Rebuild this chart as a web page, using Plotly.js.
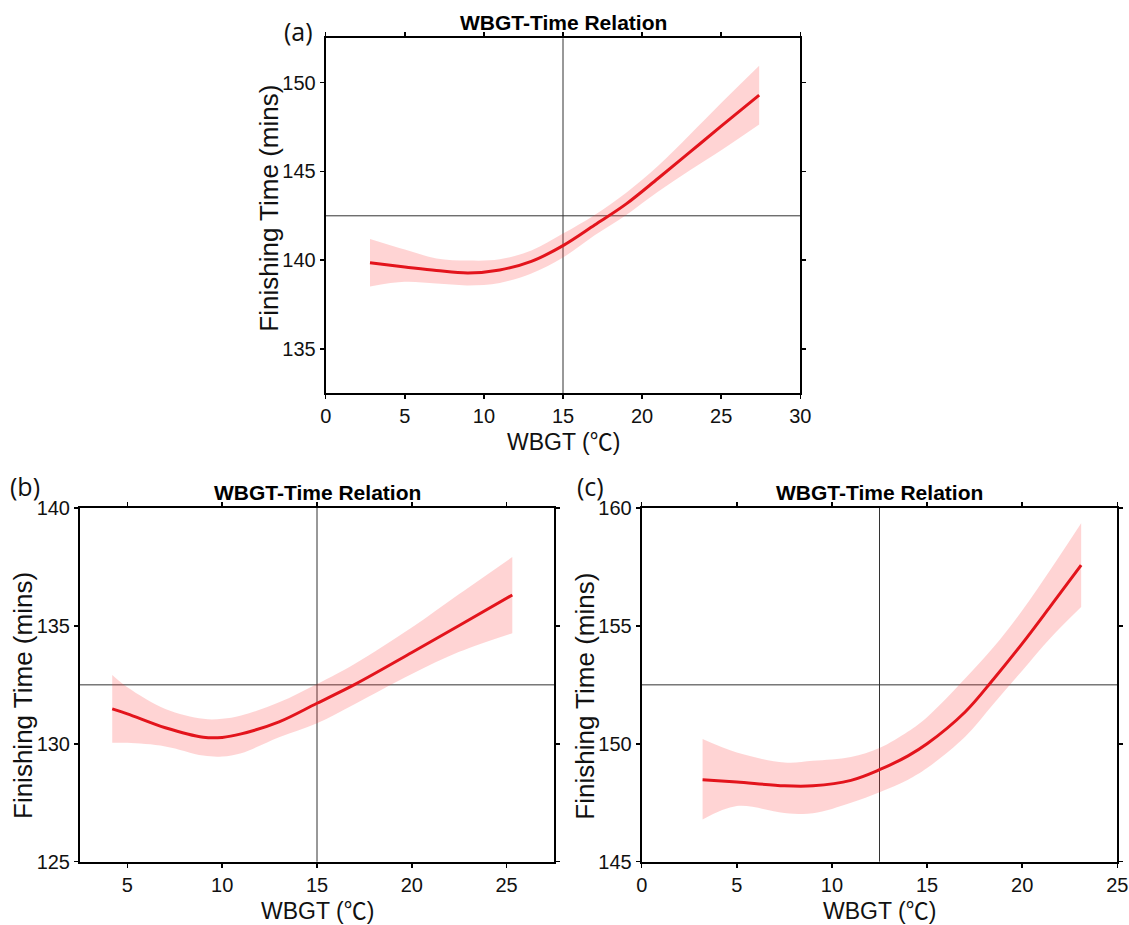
<!DOCTYPE html>
<html>
<head>
<meta charset="utf-8">
<script src="https://cdn.plot.ly/plotly-3.0.1.min.js"></script>
<style>html,body{margin:0;padding:0;background:#fff;}#chart{width:1129px;height:925px;}</style>
</head>
<body>
<div id="chart"></div>
<script>
// ---- Data ----
const panelLabels = ["(a)", "(b)", "(c)"];
const chartTitle = "WBGT-Time Relation";
const xTitle = "WBGT (<span style=\"font-family:'Noto Sans CJK SC'\">℃</span>)";
const yTitle = "Finishing Time (mins)";

// Panel (a)
const aX     = [2.8, 5, 7, 9, 11, 13, 15, 17, 19, 21, 23, 25, 27.4];
const aFit   = [139.85, 139.62, 139.42, 139.28, 139.45, 139.93, 140.82, 141.98, 143.17, 144.6, 146.07, 147.55, 149.3];
const aUpper = [141.2, 140.6, 140.1, 139.98, 140.05, 140.55, 141.5, 142.55, 143.8, 145.3, 147.05, 148.85, 150.95];
const aLower = [138.52, 138.78, 138.68, 138.58, 138.72, 139.25, 140.15, 141.4, 142.55, 143.85, 145.05, 146.2, 147.65];
const aXRange = [0, 30], aYRange = [132.5, 152.5];
const aXTicks = [0, 5, 10, 15, 20, 25, 30], aYTicks = [135, 140, 145, 150];

// Panel (b)
const bX     = [4.2, 5, 7, 9, 10, 11, 13, 15, 17, 20, 22.5, 25.3];
const bFit   = [131.48, 131.27, 130.68, 130.28, 130.27, 130.42, 130.93, 131.72, 132.52, 133.87, 135.02, 136.31];
const bUpper = [132.92, 132.4, 131.48, 131.06, 131.06, 131.2, 131.76, 132.54, 133.4, 134.93, 136.35, 137.92];
const bLower = [130.04, 130.04, 129.89, 129.5, 129.46, 129.6, 130.28, 130.87, 131.69, 132.96, 133.9, 134.69];
const bXRange = [2.5, 27.5], bYRange = [125, 140];
const bXTicks = [5, 10, 15, 20, 25], bYTicks = [125, 130, 135, 140];

// Panel (c)
const cX     = [3.2, 5, 7.5, 9, 11, 12.5, 14, 15, 17, 18.5, 20, 21.5, 23.1];
const cFit   = [148.48, 148.38, 148.22, 148.22, 148.45, 148.9, 149.49, 150.0, 151.35, 152.75, 154.25, 155.85, 157.58];
const cUpper = [150.2, 149.63, 149.21, 149.28, 149.44, 149.82, 150.52, 151.13, 152.77, 154.1, 155.65, 157.4, 159.35];
const cLower = [146.79, 147.36, 147.07, 147.05, 147.5, 147.95, 148.48, 148.97, 150.3, 151.7, 153.1, 154.5, 155.8];
const cXRange = [0, 25], cYRange = [145, 160];
const cXTicks = [0, 5, 10, 15, 20, 25], cYTicks = [145, 150, 155, 160];

// ---- Layout geometry (pixels) ----
const W = 1129, H = 925;
const boxes = [
  {l: 325.7, r: 800.3, t: 38.3, b: 393.3, yt: 208},
  {l: 80,    r: 554,   t: 508,  b: 861.7, yt: 696},
  {l: 641.7, r: 1117.3, t: 508, b: 861.7, yt: 696}
];
const labelPos = [{x: 282, y: 31}, {x: 8, y: 486}, {x: 575, y: 486}];

const panels = [
  {x: aX, fit: aFit, up: aUpper, lo: aLower, xr: aXRange, yr: aYRange, xt: aXTicks, yt: aYTicks},
  {x: bX, fit: bFit, up: bUpper, lo: bLower, xr: bXRange, yr: bYRange, xt: bXTicks, yt: bYTicks},
  {x: cX, fit: cFit, up: cUpper, lo: cLower, xr: cXRange, yr: cYRange, xt: cXTicks, yt: cYTicks}
];

const FONT = "'Liberation Sans', Arial, sans-serif";
const traces = [];
const layout = {
  width: W, height: H,
  margin: {l: 0, r: 0, t: 0, b: 0},
  paper_bgcolor: "#ffffff", plot_bgcolor: "#ffffff",
  showlegend: false,
  font: {family: FONT, color: "#000"},
  shapes: [], annotations: []
};

panels.forEach((p, i) => {
  const bx = boxes[i];
  const n = i === 0 ? "" : String(i + 1);
  const xa = "x" + n, ya = "y" + n;
  // confidence band: upper edge, then lower edge filled to it
  traces.push({
    type: "scatter", mode: "lines", xaxis: xa, yaxis: ya,
    x: p.x, y: p.up,
    line: {width: 0, shape: "spline", smoothing: 1, color: "rgba(0,0,0,0)"},
    hoverinfo: "skip"
  });
  traces.push({
    type: "scatter", mode: "lines", xaxis: xa, yaxis: ya,
    x: p.x, y: p.lo, fill: "tonexty", fillcolor: "rgba(255,60,60,0.22)",
    line: {width: 0, shape: "spline", smoothing: 1, color: "rgba(0,0,0,0)"},
    hoverinfo: "skip"
  });
  // fitted line
  traces.push({
    type: "scatter", mode: "lines", xaxis: xa, yaxis: ya,
    x: p.x, y: p.fit,
    line: {color: "#e3141c", width: 3, shape: "spline", smoothing: 1}
  });
  const axCommon = {
    showline: true, linecolor: "#000", linewidth: 2, mirror: "ticks",
    ticks: "outside", ticklen: 4, tickwidth: 1.5, tickcolor: "#000",
    showgrid: false, zeroline: false, tickmode: "array",
    tickfont: {family: FONT, size: 20, color: "#111"}
  };
  layout["xaxis" + n] = Object.assign({}, axCommon, {
    domain: [bx.l / W, bx.r / W], range: p.xr, tickvals: p.xt,
    anchor: ya
  });
  layout["yaxis" + n] = Object.assign({}, axCommon, {
    domain: [1 - bx.b / H, 1 - bx.t / H], range: p.yr, tickvals: p.yt,
    anchor: xa
  });
  // crosshair lines at the centre of each range
  const xc = (p.xr[0] + p.xr[1]) / 2, yc = (p.yr[0] + p.yr[1]) / 2;
  layout.shapes.push({type: "line", xref: xa, yref: ya + " domain", x0: xc, x1: xc, y0: 0, y1: 1,
    line: {color: "#333", width: 1}, layer: "below"});
  layout.shapes.push({type: "line", xref: xa + " domain", yref: ya, x0: 0, x1: 1, y0: yc, y1: yc,
    line: {color: "#333", width: 1}, layer: "below"});
  const cx = (bx.l + bx.r) / 2;
  // title
  layout.annotations.push({text: "<b>" + chartTitle + "</b>", xref: "paper", yref: "paper",
    x: cx / W, y: 1 - (bx.t - 16) / H, xanchor: "center", yanchor: "middle", showarrow: false,
    font: {family: FONT, size: 21, color: "#000"}});
  // x title
  layout.annotations.push({text: xTitle, xref: "paper", yref: "paper",
    x: cx / W, y: 1 - (bx.b + 47) / H, xanchor: "center", yanchor: "middle", showarrow: false,
    font: {family: FONT, size: 23, color: "#111"}});
  // y title
  layout.annotations.push({text: yTitle, xref: "paper", yref: "paper", textangle: -90,
    x: (bx.l - 57) / W, y: 1 - bx.yt / H, xanchor: "center", yanchor: "middle", showarrow: false,
    font: {family: FONT, size: 26, color: "#111"}});
  // panel label
  layout.annotations.push({text: panelLabels[i], xref: "paper", yref: "paper",
    x: labelPos[i].x / W, y: 1 - labelPos[i].y / H, xanchor: "left", yanchor: "middle", showarrow: false,
    font: {family: "'Open Sans', sans-serif", size: 25, color: "#111"}});
});

Plotly.newPlot("chart", traces, layout, {staticPlot: true, displayModeBar: false});
</script>
</body>
</html>
